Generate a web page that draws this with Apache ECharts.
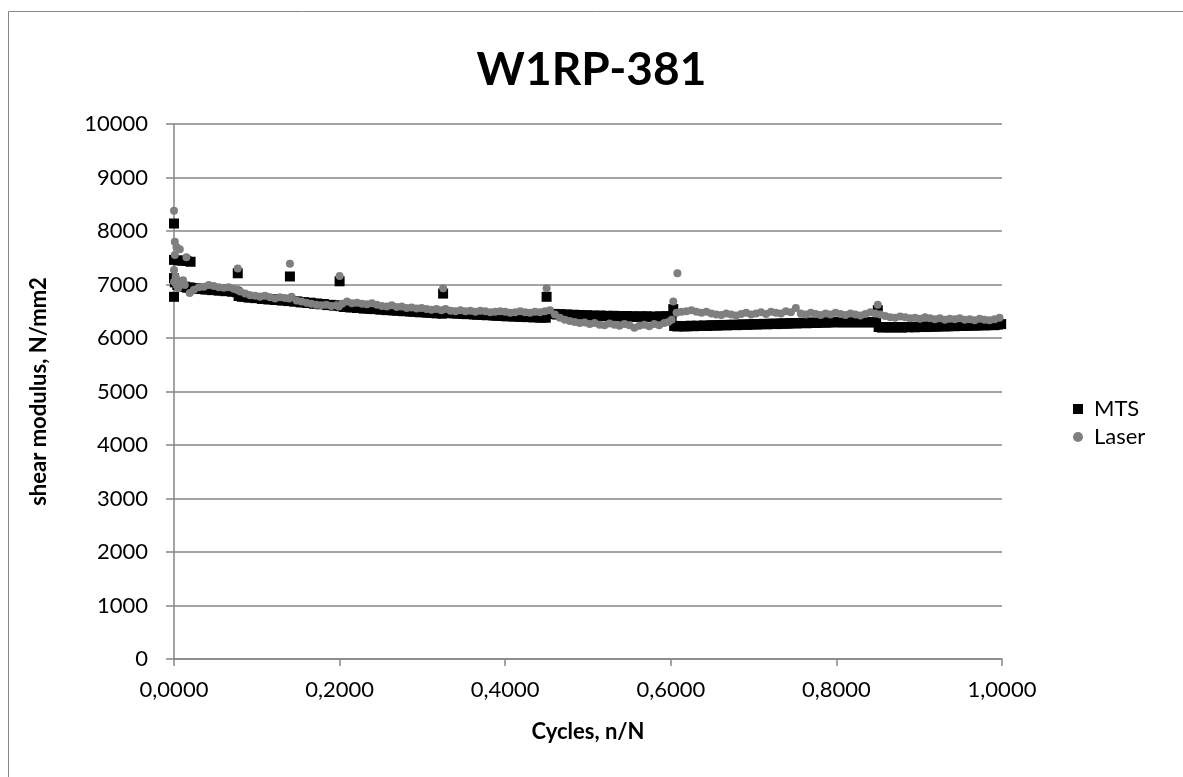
<!DOCTYPE html>
<html>
<head>
<meta charset="utf-8">
<script src="https://cdn.jsdelivr.net/npm/echarts@6/dist/echarts.min.js"></script>
<style>
  html, body { margin: 0; padding: 0; background: #ffffff; }
  #chart { width: 1183px; height: 777px; }
</style>
</head>
<body>
<div id="chart"></div>
<script>
// Text
const chartTitle = 'W1RP-381';
const xAxisTitle = 'Cycles, n/N';
const yAxisTitle = 'shear modulus, N/mm2';
const xTickLabels = ['0,0000', '0,2000', '0,4000', '0,6000', '0,8000', '1,0000'];
const yTickLabels = ['0', '1000', '2000', '3000', '4000', '5000', '6000', '7000', '8000', '9000', '10000'];

// MTS shear modulus [n/N, N/mm2]
const mtsPoints = [
  [0.000, 8140], [0.000, 7460], [0.005, 7450], [0.010, 7445], [0.015, 7440], [0.020, 7425], [0.000, 7120], [0.000, 6770],
  [0.001, 7040], [0.004, 6990], [0.007, 6975], [0.010, 6955], [0.013, 6960], [0.016, 6940], [0.019, 6945], [0.022, 6930],
  [0.026, 6935], [0.030, 6915], [0.034, 6920], [0.038, 6905], [0.042, 6910], [0.046, 6895], [0.050, 6900], [0.054, 6885],
  [0.058, 6890], [0.062, 6875], [0.066, 6880], [0.070, 6865], [0.074, 6870], [0.076, 6855],
  [0.077, 7210], [0.078, 6785], [0.082, 6770], [0.086, 6775], [0.090, 6755], [0.094, 6760], [0.098, 6745], [0.102, 6750],
  [0.106, 6730], [0.110, 6735], [0.114, 6720], [0.118, 6725], [0.122, 6710], [0.126, 6715], [0.130, 6700], [0.134, 6705],
  [0.138, 6690],
  [0.140, 7150], [0.141, 6695], [0.145, 6680], [0.149, 6685], [0.153, 6665], [0.157, 6670], [0.161, 6655], [0.165, 6660],
  [0.169, 6640], [0.173, 6645], [0.177, 6630], [0.181, 6635], [0.185, 6615], [0.189, 6620], [0.193, 6605], [0.197, 6610],
  [0.200, 7060], [0.201, 6595], [0.205, 6580], [0.209, 6585], [0.213, 6570], [0.217, 6575], [0.221, 6560], [0.225, 6565],
  [0.229, 6550], [0.233, 6555], [0.237, 6545], [0.241, 6540], [0.245, 6545], [0.249, 6530], [0.253, 6535], [0.257, 6520],
  [0.261, 6525], [0.265, 6515], [0.269, 6510], [0.273, 6515], [0.277, 6500], [0.281, 6505], [0.285, 6495], [0.289, 6490],
  [0.293, 6495], [0.297, 6480], [0.301, 6485], [0.305, 6475], [0.309, 6470], [0.313, 6475], [0.317, 6460], [0.321, 6465],
  [0.324, 6455],
  [0.325, 6830], [0.326, 6475], [0.330, 6465], [0.334, 6470], [0.338, 6460], [0.342, 6455], [0.346, 6460], [0.350, 6450],
  [0.354, 6445], [0.358, 6450], [0.362, 6440], [0.366, 6435], [0.370, 6440], [0.374, 6430], [0.378, 6425], [0.382, 6430],
  [0.386, 6420], [0.390, 6415], [0.394, 6420], [0.398, 6410], [0.402, 6405], [0.406, 6410], [0.410, 6400], [0.414, 6405],
  [0.418, 6395], [0.422, 6400], [0.426, 6390], [0.430, 6395], [0.434, 6385], [0.438, 6390], [0.442, 6380], [0.446, 6385],
  [0.449, 6380],
  [0.450, 6770], [0.451, 6455], [0.455, 6445], [0.459, 6450], [0.463, 6440], [0.467, 6445], [0.471, 6435], [0.475, 6440],
  [0.479, 6430], [0.483, 6435], [0.487, 6425], [0.491, 6430], [0.495, 6420], [0.499, 6425], [0.503, 6415], [0.507, 6420],
  [0.511, 6410], [0.515, 6420], [0.519, 6410], [0.523, 6415], [0.527, 6405], [0.531, 6415], [0.535, 6405], [0.539, 6410],
  [0.543, 6400], [0.547, 6410], [0.551, 6400], [0.555, 6405], [0.559, 6395], [0.563, 6405], [0.567, 6400], [0.571, 6405],
  [0.575, 6395], [0.579, 6400], [0.583, 6395], [0.587, 6405], [0.591, 6400], [0.595, 6405], [0.599, 6400], [0.601, 6410],
  [0.603, 6540], [0.604, 6225], [0.608, 6215], [0.612, 6225], [0.616, 6215], [0.620, 6220], [0.624, 6230], [0.628, 6220],
  [0.632, 6230], [0.636, 6225], [0.640, 6235], [0.644, 6225], [0.648, 6235], [0.652, 6240], [0.656, 6230], [0.660, 6240],
  [0.664, 6245], [0.668, 6235], [0.672, 6245], [0.676, 6250], [0.680, 6240], [0.684, 6250], [0.688, 6255], [0.692, 6245],
  [0.696, 6255], [0.700, 6260], [0.704, 6250], [0.708, 6260], [0.712, 6265], [0.716, 6255], [0.720, 6265], [0.724, 6270],
  [0.728, 6260], [0.732, 6270], [0.736, 6275], [0.740, 6265], [0.744, 6275], [0.748, 6280], [0.752, 6270], [0.756, 6280],
  [0.760, 6285], [0.764, 6275], [0.768, 6285], [0.772, 6290], [0.776, 6280], [0.780, 6290], [0.784, 6295], [0.788, 6285],
  [0.792, 6295], [0.796, 6300], [0.800, 6290], [0.804, 6300], [0.808, 6295], [0.812, 6290], [0.816, 6300], [0.820, 6295],
  [0.824, 6290], [0.828, 6300], [0.832, 6295], [0.836, 6290], [0.840, 6300], [0.844, 6295], [0.848, 6290],
  [0.850, 6520], [0.851, 6205], [0.855, 6195], [0.859, 6205], [0.863, 6200], [0.867, 6195], [0.871, 6205], [0.875, 6200],
  [0.879, 6195], [0.883, 6205], [0.887, 6200], [0.891, 6210], [0.895, 6200], [0.899, 6205], [0.903, 6215], [0.907, 6205],
  [0.911, 6210], [0.915, 6220], [0.919, 6210], [0.923, 6215], [0.927, 6225], [0.931, 6215], [0.935, 6220], [0.939, 6230],
  [0.943, 6220], [0.947, 6225], [0.951, 6235], [0.955, 6225], [0.959, 6230], [0.963, 6240], [0.967, 6230], [0.971, 6235],
  [0.975, 6245], [0.979, 6235], [0.983, 6240], [0.987, 6250], [0.991, 6240], [0.995, 6250], [0.999, 6260]
];

// Laser shear modulus [n/N, N/mm2]
const laserPoints = [
  [0.000, 8380], [0.001, 7800], [0.003, 7700], [0.007, 7660], [0.001, 7550], [0.015, 7510], [0.000, 7270], [0.002, 7150],
  [0.011, 7080], [0.000, 7050], [0.003, 6990], [0.005, 6930], [0.013, 6990], [0.006, 7040], [0.019, 6840], [0.024, 6900],
  [0.030, 6950], [0.036, 6960], [0.042, 6990], [0.048, 6970], [0.054, 6950], [0.060, 6940], [0.066, 6950], [0.072, 6920],
  [0.076, 6900],
  [0.077, 7300], [0.080, 6870], [0.086, 6830], [0.092, 6800], [0.098, 6790], [0.104, 6770], [0.110, 6790], [0.116, 6760],
  [0.122, 6740], [0.128, 6760], [0.134, 6750], [0.139, 6740],
  [0.140, 7390], [0.142, 6770], [0.148, 6700], [0.154, 6680], [0.160, 6660], [0.166, 6640], [0.172, 6620], [0.178, 6610],
  [0.184, 6620], [0.190, 6600], [0.196, 6610], [0.199, 6590],
  [0.200, 7160], [0.203, 6640], [0.209, 6680], [0.215, 6650], [0.221, 6660], [0.227, 6640], [0.233, 6630], [0.239, 6650],
  [0.245, 6620], [0.251, 6600], [0.257, 6590], [0.263, 6610], [0.269, 6580], [0.275, 6590], [0.281, 6560], [0.287, 6570],
  [0.293, 6550], [0.299, 6560], [0.305, 6540], [0.311, 6530], [0.317, 6540], [0.323, 6520],
  [0.325, 6930], [0.328, 6540], [0.334, 6510], [0.340, 6500], [0.346, 6520], [0.352, 6500], [0.358, 6510], [0.364, 6490],
  [0.370, 6510], [0.376, 6500], [0.382, 6480], [0.388, 6490], [0.394, 6500], [0.400, 6490], [0.406, 6470], [0.412, 6480],
  [0.418, 6500], [0.424, 6480], [0.430, 6470], [0.436, 6490], [0.442, 6480], [0.448, 6500],
  [0.450, 6930], [0.454, 6520], [0.460, 6440], [0.466, 6380], [0.472, 6340], [0.478, 6320], [0.484, 6300], [0.490, 6280],
  [0.496, 6290], [0.502, 6260], [0.508, 6280], [0.514, 6250], [0.520, 6240], [0.526, 6270], [0.532, 6250], [0.538, 6230],
  [0.544, 6260], [0.550, 6240], [0.556, 6190], [0.562, 6230], [0.568, 6250], [0.574, 6220], [0.580, 6260], [0.586, 6240],
  [0.592, 6280], [0.597, 6300], [0.601, 6340],
  [0.603, 6680], [0.608, 7210], [0.607, 6470], [0.613, 6490], [0.619, 6500], [0.625, 6520], [0.631, 6490], [0.637, 6470],
  [0.643, 6490], [0.649, 6460], [0.655, 6440], [0.661, 6430], [0.667, 6460], [0.673, 6440], [0.679, 6420], [0.685, 6450],
  [0.691, 6470], [0.697, 6440], [0.703, 6460], [0.709, 6480], [0.715, 6450], [0.721, 6490], [0.727, 6470], [0.733, 6460],
  [0.739, 6500], [0.745, 6480], [0.751, 6560], [0.757, 6460], [0.763, 6440], [0.769, 6470], [0.775, 6450], [0.781, 6430],
  [0.787, 6460], [0.793, 6440], [0.799, 6470], [0.805, 6450], [0.811, 6430], [0.817, 6460], [0.823, 6440], [0.829, 6420],
  [0.835, 6450], [0.841, 6480], [0.847, 6460],
  [0.850, 6620], [0.853, 6440], [0.859, 6410], [0.865, 6390], [0.871, 6380], [0.877, 6400], [0.883, 6390], [0.889, 6370],
  [0.895, 6380], [0.901, 6360], [0.907, 6390], [0.913, 6370], [0.919, 6350], [0.925, 6370], [0.931, 6340], [0.937, 6360],
  [0.943, 6350], [0.949, 6370], [0.955, 6340], [0.961, 6350], [0.967, 6330], [0.973, 6360], [0.979, 6340], [0.985, 6330],
  [0.991, 6350], [0.997, 6380]
];

const gridGray = '#868686';
const fontFamily = 'Lato, "Open Sans", sans-serif';

const chart = echarts.init(document.getElementById('chart'), null, { renderer: 'canvas' });

chart.setOption({
  animation: false,
  backgroundColor: '#ffffff',
  title: {
    text: chartTitle,
    left: 'center',
    top: 42,
    textStyle: { fontFamily: fontFamily, fontWeight: 'bold', fontSize: 46, color: '#000000' }
  },
  grid: { left: 174, right: 181, top: 124, bottom: 118, containLabel: false },
  legend: {
    orient: 'vertical',
    left: 1068,
    top: 393,
    itemWidth: 10,
    itemHeight: 10,
    itemGap: 6,
    textStyle: { fontFamily: fontFamily, fontSize: 22, color: '#000000', padding: [0, 0, 0, 6] },
    data: [
      { name: 'MTS', icon: 'rect', itemStyle: { color: '#000000', opacity: 1 } },
      { name: 'Laser', icon: 'circle', itemStyle: { color: '#7f7f7f', opacity: 1 } }
    ]
  },
  xAxis: {
    type: 'value',
    min: 0,
    max: 1,
    interval: 0.2,
    name: xAxisTitle,
    nameLocation: 'middle',
    nameGap: 62,
    nameTextStyle: { fontFamily: fontFamily, fontWeight: 'bold', fontSize: 22, color: '#000000' },
    axisLine: { onZero: false, lineStyle: { color: gridGray, width: 1.5 } },
    axisTick: { show: true, length: 7, lineStyle: { color: gridGray, width: 1.5 } },
    axisLabel: {
      margin: 20,
      fontFamily: fontFamily,
      fontSize: 22,
      color: '#000000',
      formatter: function (v) { return xTickLabels[Math.round(v / 0.2)]; }
    },
    splitLine: { show: false }
  },
  yAxis: {
    type: 'value',
    min: 0,
    max: 10000,
    interval: 1000,
    name: yAxisTitle,
    nameLocation: 'middle',
    nameGap: 124,
    nameRotate: 90,
    nameTextStyle: { fontFamily: fontFamily, fontWeight: 'bold', fontSize: 22, color: '#000000' },
    axisLine: { show: true, lineStyle: { color: gridGray, width: 1.5 } },
    axisTick: { show: true, length: 8, lineStyle: { color: gridGray, width: 1.5 } },
    axisLabel: {
      margin: 26,
      fontFamily: fontFamily,
      fontSize: 22,
      color: '#000000',
      formatter: function (v) { return yTickLabels[Math.round(v / 1000)]; }
    },
    splitLine: { show: true, lineStyle: { color: gridGray, width: 1.5 } }
  },
  series: [
    {
      name: 'MTS',
      type: 'scatter',
      data: mtsPoints,
      symbol: 'rect',
      symbolSize: 10,
      itemStyle: { color: '#000000', opacity: 1 },
      z: 2
    },
    {
      name: 'Laser',
      type: 'scatter',
      data: laserPoints,
      symbol: 'circle',
      symbolSize: 8,
      itemStyle: { color: '#7f7f7f', opacity: 1 },
      z: 3
    }
  ],
  graphic: [
    {
      type: 'rect',
      silent: true,
      z: -10,
      shape: { x: 8.5, y: 11.5, width: 1300, height: 900 },
      style: { fill: null, stroke: gridGray, lineWidth: 1 }
    }
  ]
});
</script>
</body>
</html>
